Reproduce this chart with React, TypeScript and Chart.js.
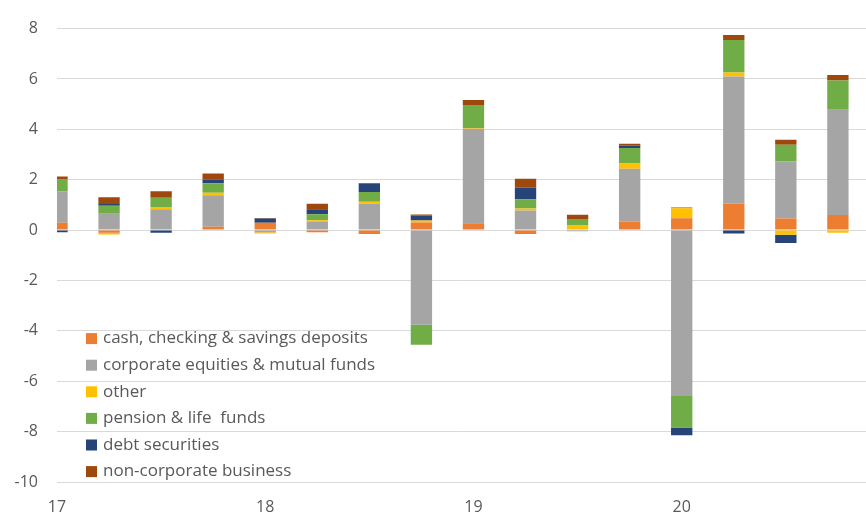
import React, { useEffect, useRef } from 'react';
import { Chart, registerables } from 'chart.js';

Chart.register(...registerables);

const quarters = ['17Q1', '17Q2', '17Q3', '17Q4', '18Q1', '18Q2', '18Q3', '18Q4', '19Q1', '19Q2', '19Q3', '19Q4', '20Q1', '20Q2', '20Q3', '20Q4'];
const yearTicks = ['17', '18', '19', '20'];

const cash = [0.29, -0.1, 0, 0.13, 0.29, -0.08, -0.15, 0.3, 0.27, -0.15, 0, 0.33, 0.47, 1.05, 0.46, 0.6];
const equities = [1.25, 0.65, 0.83, 1.25, -0.08, 0.32, 1.05, -3.76, 3.75, 0.78, -0.05, 2.11, -6.59, 5.05, 2.27, 4.18];
const other = [0, -0.07, 0.09, 0.1, -0.05, 0.07, 0.08, 0.08, 0.03, 0.08, 0.18, 0.2, 0.4, 0.16, -0.18, -0.1];
const pension = [0.47, 0.32, 0.36, 0.38, 0, 0.24, 0.38, -0.79, 0.92, 0.37, 0.26, 0.62, -1.25, 1.29, 0.66, 1.16];
const debt = [-0.08, 0.07, -0.1, 0.14, 0.17, 0.2, 0.33, 0.2, 0, 0.46, 0, 0.1, -0.3, -0.13, -0.33, 0];
const nonCorporate = [0.12, 0.26, 0.26, 0.25, 0.02, 0.22, 0.03, 0.04, 0.2, 0.35, 0.17, 0.07, 0.03, 0.2, 0.2, 0.22];

const seriesNames = [
  'cash, checking & savings deposits',
  'corporate equities & mutual funds',
  'other',
  'pension & life  funds',
  'debt securities',
  'non-corporate business',
];
const seriesColors = ['#ED7D31', '#A5A5A5', '#FFC000', '#70AD47', '#264478', '#9E480E'];

const FONT = '"Open Sans", "DejaVu Sans", sans-serif';
const TEXT = '#595959';

export default function App() {
  const ref = useRef<HTMLCanvasElement>(null);

  useEffect(() => {
    if (!ref.current) return;
    const series = [cash, equities, other, pension, debt, nonCorporate];

    const insideLegend = {
      id: 'insideLegend',
      afterDraw(chart: any) {
        const ctx = chart.ctx;
        const area = chart.chartArea;
        ctx.save();
        ctx.font = '17px ' + FONT;
        ctx.textBaseline = 'middle';
        ctx.textAlign = 'left';
        chart.data.datasets.forEach((ds: any, i: number) => {
          const y = area.top + 310 + i * 26.6;
          ctx.fillStyle = ds.backgroundColor;
          ctx.fillRect(area.left + 29, y - 5.5, 11, 11);
          ctx.fillStyle = TEXT;
          ctx.fillText(ds.label, area.left + 46, y);
        });
        ctx.restore();
      },
    };

    const chart = new Chart(ref.current, {
      type: 'bar',
      data: {
        labels: quarters,
        datasets: series.map((vals, i) => ({
          label: seriesNames[i],
          data: vals.map((v, j) => ({ x: j, y: v })),
          backgroundColor: seriesColors[i],
          borderWidth: 0,
          categoryPercentage: 1,
          barPercentage: 0.41,
          clip: 0,
        })),
      },
      options: {
        responsive: false,
        animation: false,
        layout: { padding: { top: 26, right: 0, left: 0, bottom: 0 } },
        plugins: {
          legend: { display: false },
          tooltip: { enabled: false },
        },
        scales: {
          x: {
            type: 'linear',
            stacked: true,
            offset: false,
            min: 0,
            max: 15.54,
            grid: { display: false, drawTicks: false, offset: false },
            border: { display: false },
            afterBuildTicks: (scale: any) => {
              scale.ticks = yearTicks.map((_, i) => ({ value: i * 4 }));
            },
            afterFit: (scale: any) => {
              scale.height = 32;
            },
            ticks: {
              autoSkip: false,
              maxRotation: 0,
              padding: 16,
              color: TEXT,
              font: { family: FONT, size: 16 },
              callback: (value: any) => yearTicks[Math.round(Number(value) / 4)] ?? '',
            },
          },
          y: {
            stacked: true,
            min: -10,
            max: 8,
            grid: { color: '#D9D9D9', lineWidth: 1, drawTicks: false },
            border: { display: false },
            afterFit: (scale: any) => {
              scale.width = 57;
            },
            ticks: {
              stepSize: 2,
              padding: 19,
              color: TEXT,
              font: { family: FONT, size: 16 },
            },
          },
        },
      },
      plugins: [insideLegend],
    });

    return () => chart.destroy();
  }, []);

  return (
    <div style={{ position: 'absolute', left: 0, top: 0, width: 866, height: 514, background: '#fff' }}>
      <canvas ref={ref} width={866} height={514} style={{ display: 'block' }} />
    </div>
  );
}
